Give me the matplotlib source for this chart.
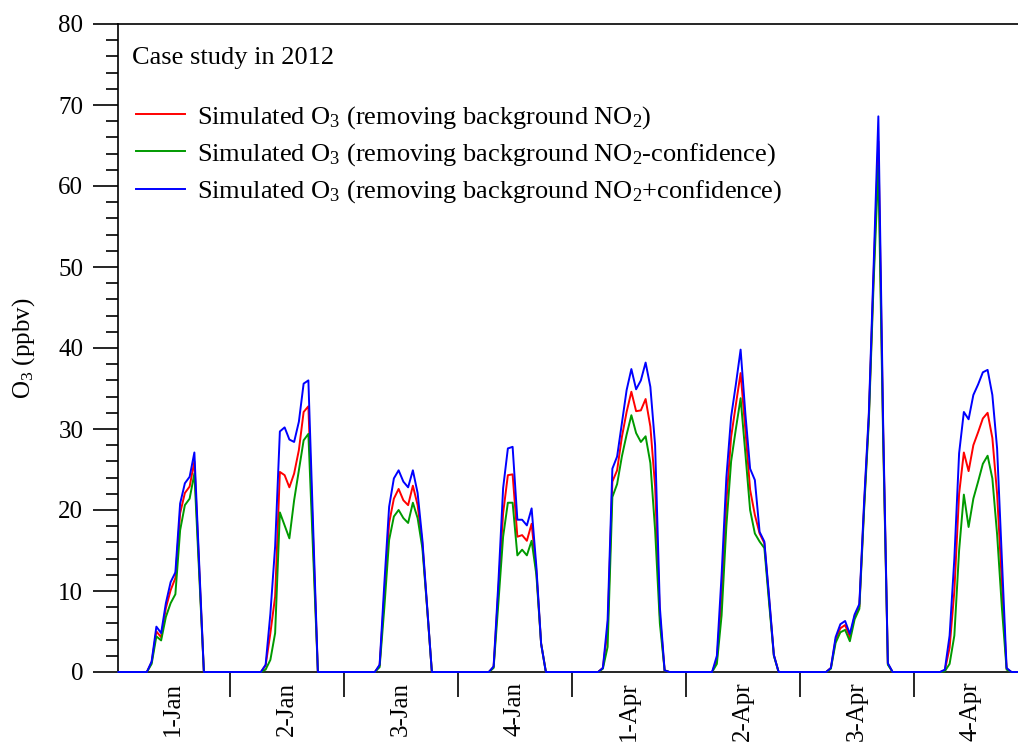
import matplotlib
matplotlib.use("Agg")
import matplotlib.pyplot as plt
import numpy as np
from matplotlib.ticker import MultipleLocator, FixedLocator, FixedFormatter, NullFormatter

plt.rcParams['font.family'] = ['Liberation Serif', 'DejaVu Serif']
plt.rcParams['mathtext.fontset'] = 'custom'
plt.rcParams['mathtext.rm'] = 'Liberation Serif'
plt.rcParams['mathtext.it'] = 'Liberation Serif:italic'
plt.rcParams['mathtext.bf'] = 'Liberation Serif:bold'

# ---------------- data (hourly O3, ppbv; 24 values per day) ----------------
day_labels = ['1-Jan', '2-Jan', '3-Jan', '4-Jan', '1-Apr', '2-Apr', '3-Apr', '4-Apr']

o3_removed = [  # Simulated O3 (removing background NO2)
    [0, 0, 0, 0, 0, 0, 0, 1.2, 5.0, 4.3, 7.9, 10.1, 11.6, 19.6, 22.1, 22.9, 26.0, 13.0, 0, 0, 0, 0, 0, 0],
    [0, 0, 0, 0, 0, 0, 0, 0.8, 4.8, 9.3, 24.7, 24.3, 22.8, 24.5, 27.4, 32.1, 32.8, 16.4, 0, 0, 0, 0, 0, 0],
    [0, 0, 0, 0, 0, 0, 0, 0.8, 9.5, 18.4, 21.4, 22.6, 21.2, 20.6, 23.0, 20.6, 15.9, 8.0, 0, 0, 0, 0, 0, 0],
    [0, 0, 0, 0, 0, 0, 0, 0.6, 10.0, 19.6, 24.3, 24.4, 16.7, 16.9, 16.2, 18.3, 12.5, 3.5, 0, 0, 0, 0, 0, 0],
    [0, 0, 0, 0, 0, 0, 0.5, 5.2, 23.5, 24.9, 29.0, 32.1, 34.6, 32.2, 32.3, 33.7, 30.3, 22.9, 7.0, 0.2, 0, 0, 0, 0],
    [0, 0, 0, 0, 0, 0, 1.5, 9.5, 21.0, 29.0, 33.0, 36.9, 29.9, 22.5, 19.4, 17.1, 15.9, 9.0, 2.1, 0, 0, 0, 0, 0],
    [0, 0, 0, 0, 0, 0, 0.5, 4.0, 5.4, 5.8, 4.3, 6.9, 8.1, 20.5, 31.5, 49.0, 65.5, 30.0, 1.0, 0, 0, 0, 0, 0],
    [0, 0, 0, 0, 0, 0, 0.2, 3.0, 10.0, 22.0, 27.1, 24.8, 28.0, 29.6, 31.3, 32.0, 28.9, 22.0, 11.0, 0.4, 0, 0, 0, 0],
]

o3_minus = [  # Simulated O3 (removing background NO2 - confidence)
    [0, 0, 0, 0, 0, 0, 0, 1.0, 4.4, 3.9, 6.8, 8.5, 9.6, 17.5, 20.6, 21.4, 24.5, 12.3, 0, 0, 0, 0, 0, 0],
    [0, 0, 0, 0, 0, 0, 0, 0.3, 1.5, 4.8, 19.7, 18.1, 16.5, 21.2, 24.9, 28.6, 29.4, 14.7, 0, 0, 0, 0, 0, 0],
    [0, 0, 0, 0, 0, 0, 0, 0.6, 8.0, 16.3, 19.2, 20.0, 19.0, 18.4, 20.9, 19.0, 15.3, 7.9, 0, 0, 0, 0, 0, 0],
    [0, 0, 0, 0, 0, 0, 0, 0.5, 8.5, 16.7, 20.9, 20.9, 14.4, 15.1, 14.4, 16.2, 12.0, 3.5, 0, 0, 0, 0, 0, 0],
    [0, 0, 0, 0, 0, 0, 0.4, 3.1, 21.6, 23.2, 26.6, 29.3, 31.7, 29.5, 28.4, 29.1, 25.8, 17.5, 6.0, 0.2, 0, 0, 0, 0],
    [0, 0, 0, 0, 0, 0, 1.0, 7.0, 18.0, 26.0, 30.0, 33.8, 27.0, 20.0, 17.1, 16.1, 15.3, 8.5, 2.0, 0, 0, 0, 0, 0],
    [0, 0, 0, 0, 0, 0, 0.4, 3.6, 4.9, 5.2, 3.8, 6.5, 7.8, 20.0, 31.0, 48.0, 62.5, 29.0, 0.9, 0, 0, 0, 0, 0],
    [0, 0, 0, 0, 0, 0, 0.1, 1.0, 4.5, 15.0, 21.9, 17.9, 21.4, 23.5, 25.7, 26.7, 23.9, 17.0, 8.0, 0.3, 0, 0, 0, 0],
]

o3_plus = [  # Simulated O3 (removing background NO2 + confidence)
    [0, 0, 0, 0, 0, 0, 0, 1.3, 5.6, 4.8, 8.5, 11.1, 12.3, 20.8, 23.3, 24.1, 27.1, 13.6, 0, 0, 0, 0, 0, 0],
    [0, 0, 0, 0, 0, 0, 0, 0.9, 7.2, 15.5, 29.7, 30.2, 28.7, 28.4, 30.9, 35.6, 36.0, 18.0, 0, 0, 0, 0, 0, 0],
    [0, 0, 0, 0, 0, 0, 0, 0.9, 11.0, 20.4, 23.9, 24.9, 23.5, 22.8, 24.9, 22.1, 16.3, 8.1, 0, 0, 0, 0, 0, 0],
    [0, 0, 0, 0, 0, 0, 0, 0.7, 11.0, 22.7, 27.6, 27.8, 18.8, 18.8, 18.1, 20.2, 13.0, 3.5, 0, 0, 0, 0, 0, 0],
    [0, 0, 0, 0, 0, 0, 0.5, 6.4, 25.1, 26.6, 30.7, 34.8, 37.4, 34.9, 36.0, 38.2, 35.2, 28.0, 8.0, 0.2, 0, 0, 0, 0],
    [0, 0, 0, 0, 0, 0, 2.0, 12.0, 24.0, 31.5, 35.5, 39.8, 31.9, 25.1, 23.7, 17.3, 16.1, 9.3, 2.1, 0, 0, 0, 0, 0],
    [0, 0, 0, 0, 0, 0, 0.5, 4.3, 5.9, 6.3, 4.7, 7.1, 8.4, 21.0, 32.0, 50.0, 68.6, 31.0, 1.1, 0, 0, 0, 0, 0],
    [0, 0, 0, 0, 0, 0, 0.3, 4.5, 14.0, 27.0, 32.1, 31.2, 34.2, 35.5, 37.0, 37.3, 34.2, 27.6, 14.0, 0.5, 0, 0, 0, 0],
]

series_labels = [
    'Simulated O$_3$ (removing background NO$_2$)',
    'Simulated O$_3$ (removing background NO$_2$-confidence)',
    'Simulated O$_3$ (removing background NO$_2$+confidence)',
]
series_colors = ['#ff0000', '#009a00', '#0000ff']

# ---------------- plot ----------------
W, H = 1018, 745
fig = plt.figure(figsize=(W / 100, H / 100), dpi=100)
ax = fig.add_axes([118 / W, 1 - 672 / H, 1 - 118 / W, (672 - 24) / H])

n_hours = 24 * len(day_labels)
x = np.arange(n_hours) + 0.5
for data, lab, col in zip([o3_removed, o3_minus, o3_plus], series_labels, series_colors):
    ax.plot(x, np.concatenate(data), color=col, lw=1.4, label=lab,
            clip_on=False, zorder=3)

ax.set_xlim(0.42, 189.9)
ax.set_ylim(0, 80)

for s in ['top', 'left', 'bottom']:
    ax.spines[s].set_linewidth(1.2)
ax.spines['right'].set_visible(False)

ax.xaxis.set_major_locator(FixedLocator(np.arange(24, n_hours, 24)))
ax.xaxis.set_major_formatter(NullFormatter())
ax.xaxis.set_minor_locator(FixedLocator(np.arange(12, n_hours, 24)))
ax.xaxis.set_minor_formatter(FixedFormatter(day_labels))
ax.tick_params(axis='x', which='major', direction='out', length=18, width=1.2)
ax.tick_params(axis='x', which='minor', length=0, pad=7, labelsize=18, labelrotation=90)

ax.yaxis.set_major_locator(MultipleLocator(10))
ax.yaxis.set_minor_locator(MultipleLocator(2))
ax.tick_params(axis='y', which='major', direction='out', length=18, width=1.2, labelsize=18, pad=7)
ax.tick_params(axis='y', which='minor', direction='out', length=9, width=1.2)
ax.tick_params(top=False, right=False)

ax.set_ylabel('O$_3$ (ppbv)', fontsize=18, labelpad=15)

ax.text(0.0156, 0.947, 'Case study in 2012', transform=ax.transAxes,
        fontsize=19, ha='left', va='center')

ax.legend(loc='upper left', bbox_to_anchor=(0.02, 0.877), frameon=False,
          fontsize=19, handlelength=1.85, handletextpad=0.45,
          labelspacing=0.4, borderpad=0, borderaxespad=0)

fig.savefig('out.png', dpi=100)
